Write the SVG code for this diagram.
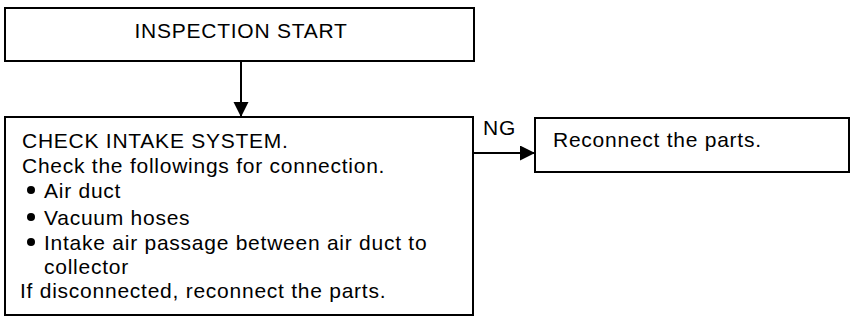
<svg xmlns="http://www.w3.org/2000/svg" width="854" height="325" viewBox="0 0 854 325">
  <style>
    .box { fill: #fff; stroke: #000; stroke-width: 2; }
    .t { font-family: "Liberation Sans", Arial, sans-serif; font-size: 21px; letter-spacing: 0.75px; fill: #000; }
    .edge { stroke: #000; stroke-width: 2; fill: none; }
  </style>
  <defs>
    <marker id="arr" markerUnits="userSpaceOnUse" markerWidth="16" markerHeight="16" refX="15" refY="7.5" orient="auto">
      <path d="M0,0 L15,7.5 L0,15 Z" fill="#000"/>
    </marker>
  </defs>
  <rect width="854" height="325" fill="#fff"/>
  <g id="connectors">
    <line class="edge" x1="241" y1="61" x2="241" y2="117" marker-end="url(#arr)"/>
    <line class="edge" x1="473" y1="153" x2="535" y2="153" marker-end="url(#arr)"/>
    <text class="t" x="483" y="135">NG</text>
  </g>
  <g id="start">
    <rect class="box" x="5" y="8" width="469" height="53"/>
    <text class="t" x="241" y="38" text-anchor="middle">INSPECTION START</text>
  </g>
  <g id="check">
    <rect class="box" x="5" y="117" width="468" height="198"/>
    <text class="t" x="22" y="148">CHECK INTAKE SYSTEM.</text>
    <text class="t" x="22" y="173">Check the followings for connection.</text>
    <circle cx="31" cy="190" r="4"/>
    <text class="t" x="44" y="198">Air duct</text>
    <circle cx="31" cy="217" r="4"/>
    <text class="t" x="44" y="225">Vacuum hoses</text>
    <circle cx="31" cy="242" r="4"/>
    <text class="t" x="44" y="250">Intake air passage between air duct to</text>
    <text class="t" x="44" y="274">collector</text>
    <text class="t" x="20" y="298">If disconnected, reconnect the parts.</text>
  </g>
  <g id="reconnect">
    <rect class="box" x="535" y="118" width="314" height="54"/>
    <text class="t" x="553" y="147">Reconnect the parts.</text>
  </g>
</svg>
